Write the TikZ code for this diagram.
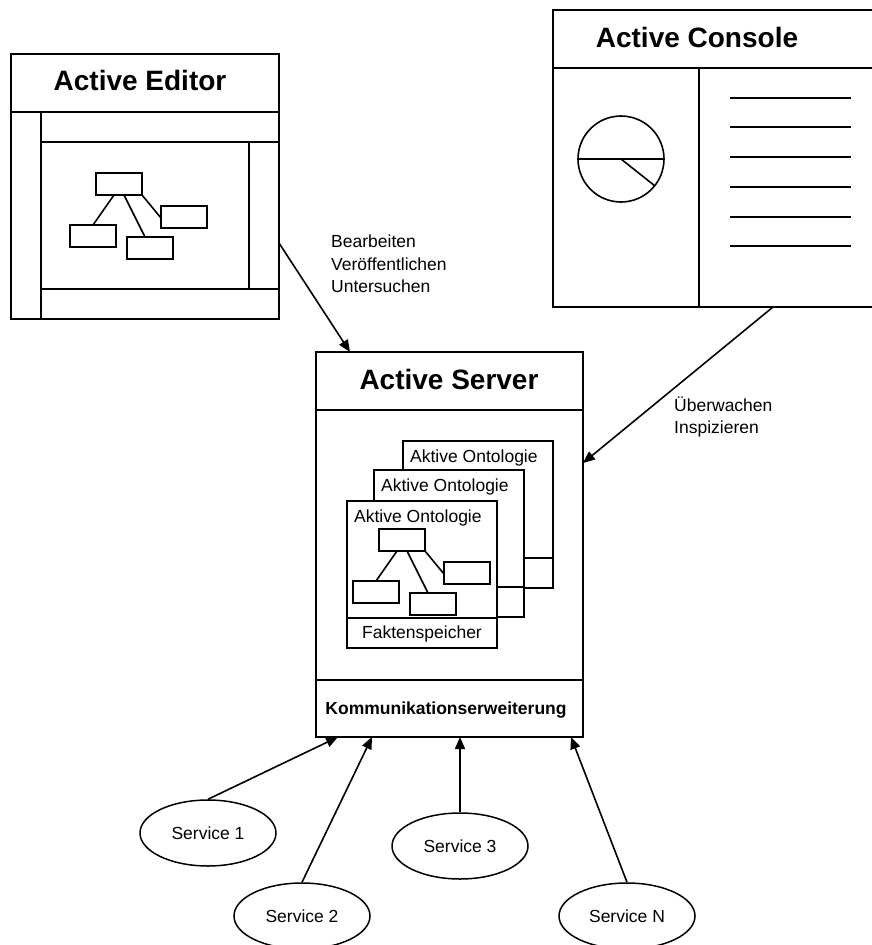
\documentclass[tikz,border=0pt]{standalone}
\usepackage{fontspec}
\setmainfont{Liberation Sans}
\usetikzlibrary{arrows.meta,calc,shapes.geometric}

\tikzset{
  frame/.style={draw, line width=2pt, inner sep=0pt, outer sep=0pt, fill=white},
  rule/.style={line width=2pt},
  thin rule/.style={line width=1.6pt},
  conn/.style={line width=1.6pt, -{Triangle[length=12pt,width=10pt]}},
  title/.style={font=\fontsize{28}{34}\selectfont\bfseries, inner sep=0pt},
  label/.style={font=\fontsize{17.5}{22.5}\selectfont, inner sep=0pt, align=left},
  service/.style={draw, ellipse, line width=1.5pt, minimum width=136pt,
    minimum height=66pt, inner sep=0pt, font=\fontsize{17.5}{21}\selectfont},
  mini/.style={draw, line width=1.7pt, minimum width=46pt, minimum height=22pt,
    inner sep=0pt, outer sep=0pt},
  % small class tree: one root and three children
  tree/.pic={
    \node[mini] (-root) at (23,11) {};
    \node[mini] (-right) at (88,44) {};
    \node[mini] (-left) at (-3,63) {};
    \node[mini] (-mid) at (54,75) {};
    \draw[thin rule] ($(-root.south west)+(18,0)$) -- (-left.north);
    \draw[thin rule] ($(-root.south west)+(28,0)$) -- ($(-mid.north west)+(18,0)$);
    \draw[thin rule] (-root.south east) -- ($(-right.north west)+(0,12)$);
  },
  % ontology card with a lower compartment
  onto/.pic={
    \node[frame, minimum width=150pt, minimum height=147pt, anchor=north west] (-box) at (0,0) {};
    \draw[rule] ($(-box.north west)+(0,117)$) -- ($(-box.north east)+(0,117)$);
    \node[label, anchor=base west] (-name) at ($(-box.north west)+(7,21)$) {Aktive Ontologie};
  },
}

\begin{document}
\begin{tikzpicture}[x=1pt,y=-1pt]
\useasboundingbox (0,0) rectangle (871,945);

% ---------- Active Editor ----------
\node[frame, minimum width=268pt, minimum height=265pt, anchor=north west] (editor) at (11,54) {};
\draw[rule] (11,112) -- (279,112);
\draw[rule] (41,112) -- (41,319);
\draw[rule] (41,142) -- (279,142);
\draw[rule] (249,142) -- (249,289);
\draw[rule] (41,289) -- (279,289);
\node[title] (edtitle) at (140,80) {Active Editor};
\pic (edtree) at (96,173) {tree};

% ---------- Active Console (runs past the right edge) ----------
\node[frame, minimum width=340pt, minimum height=297pt, anchor=north west] (console) at (553,10) {};
\draw[rule] (553,68) -- (893,68);
\draw[rule] (699,68) -- (699,307);
\node[title] (contitle) at (697,37) {Active Console};
\node[draw, circle, line width=1.6pt, minimum size=86pt, inner sep=0pt] (dial) at (621,159) {};
\draw[thin rule] (dial.west) -- (dial.east);
\draw[thin rule] (dial.center) -- ($(dial.center)+(34,27)$);
\foreach \yy in {98,127,157,187,217,246}
  \draw[thin rule] (730,\yy) -- (851,\yy);

% ---------- Active Server ----------
\node[frame, minimum width=267pt, minimum height=385pt, anchor=north west] (server) at (316,352) {};
\draw[rule] (316,410) -- (583,410);
\draw[rule] (316,680) -- (583,680);
\node[title] (srvtitle) at (449,379) {Active Server};
\node[label, font=\fontsize{17.5}{21}\selectfont\bfseries] (comm) at (446,710) {Kommunikationserweiterung};

\pic (ont3) at (403,441) {onto};
\pic (ont2) at (374,470) {onto};
\pic (ont1) at (347,501) {onto};
\node[label] (facts) at (422,634) {Faktenspeicher};
\pic (ontree) at (379,529) {tree};

% ---------- Services ----------
\node[service] (s1) at (208,833) {Service 1};
\node[service] (s2) at (302,916) {Service 2};
\node[service] (s3) at (460,846) {Service 3};
\node[service] (sn) at (627,916) {Service N};

% ---------- Connectors ----------
\draw[conn] (editor.east |- 0,243) -- ($(server.north west)+(34,0)$);
\draw[conn] ($(console.south west)+(220,0)$) -- (server.east |- 0,463);
\draw[conn] (s1.north) -- ($(server.south west)+(22,0)$);
\draw[conn] (s2.north) -- ($(server.south west)+(56,0)$);
\draw[conn] (s3.north) -- (s3.north |- server.south);
\draw[conn] (sn.north) -- ($(server.south west)+(255,0)$);

% ---------- Connector labels ----------
\node[label, anchor=west] (edlabel) at (331,264) {Bearbeiten\\Ver\"offentlichen\\Untersuchen};
\node[label, anchor=west] (conlabel) at (674,417) {\"Uberwachen\\Inspizieren};

\end{tikzpicture}
\end{document}
